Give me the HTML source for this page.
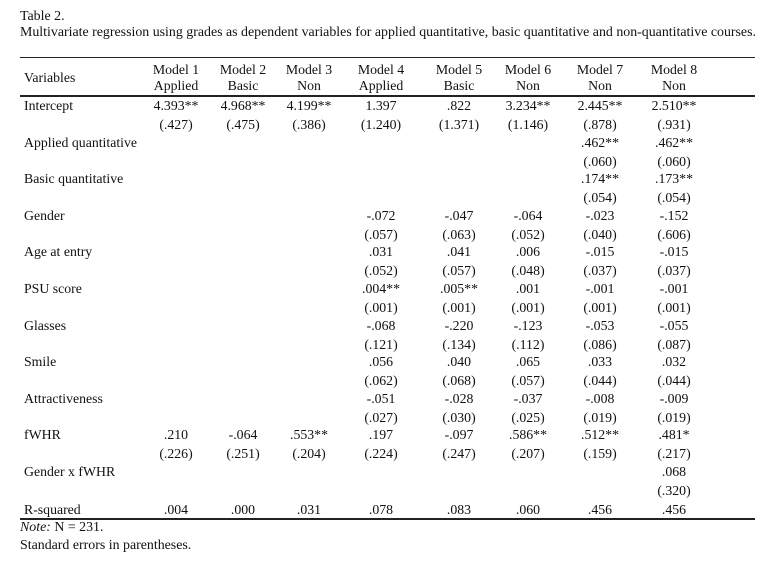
<!DOCTYPE html>
<html><head><meta charset="utf-8"><style>
body{margin:0;width:763px;height:561px;background:#fff;position:relative;overflow:hidden;font-family:"Liberation Serif",serif;font-size:13.8px;color:#111}
.t{position:absolute;line-height:18px;white-space:nowrap}
.c{transform:translateX(-50%)}
.l{position:absolute;left:20px;width:735px;background:#222}
.h{font-size:13.9px}
</style></head><body>
<div class="t h" style="left:20px;top:8px">Table 2.</div>
<div class="t h" style="left:20px;top:24px">Multivariate regression using grades as dependent variables for applied quantitative, basic quantitative and non-quantitative courses.</div>
<div class="l" style="top:57px;height:1px"></div>
<div class="l" style="top:95px;height:2px"></div>
<div class="l" style="top:518px;height:2px"></div>
<div id="g"></div>
<div class="t h" style="left:20px;top:519px"><i>Note:</i> N = 231.</div>
<div class="t h" style="left:20px;top:537px">Standard errors in parentheses.</div>
<script>
var cx=[176,243,309,381,459,528,600,674];
var h='';
function lab(t,y){h+='<div class="t" style="left:24px;top:'+(y-9)+'px">'+t+'</div>';}
function row(v,y){v.forEach(function(s,i){if(s)h+='<div class="t c" style="left:'+cx[i]+'px;top:'+(y-9)+'px">'+s+'</div>';});}
lab('Variables',78);
row(['Model 1','Model 2','Model 3','Model 4','Model 5','Model 6','Model 7','Model 8'],70);
row(['Applied','Basic','Non','Applied','Basic','Non','Non','Non'],86);
var R=[
['Intercept',['4.393**','4.968**','4.199**','1.397','.822','3.234**','2.445**','2.510**'],['(.427)','(.475)','(.386)','(1.240)','(1.371)','(1.146)','(.878)','(.931)']],
['Applied quantitative',['','','','','','','.462**','.462**'],['','','','','','','(.060)','(.060)']],
['Basic quantitative',['','','','','','','.174**','.173**'],['','','','','','','(.054)','(.054)']],
['Gender',['','','','-.072','-.047','-.064','-.023','-.152'],['','','','(.057)','(.063)','(.052)','(.040)','(.606)']],
['Age at entry',['','','','.031','.041','.006','-.015','-.015'],['','','','(.052)','(.057)','(.048)','(.037)','(.037)']],
['PSU score',['','','','.004**','.005**','.001','-.001','-.001'],['','','','(.001)','(.001)','(.001)','(.001)','(.001)']],
['Glasses',['','','','-.068','-.220','-.123','-.053','-.055'],['','','','(.121)','(.134)','(.112)','(.086)','(.087)']],
['Smile',['','','','.056','.040','.065','.033','.032'],['','','','(.062)','(.068)','(.057)','(.044)','(.044)']],
['Attractiveness',['','','','-.051','-.028','-.037','-.008','-.009'],['','','','(.027)','(.030)','(.025)','(.019)','(.019)']],
['fWHR',['.210','-.064','.553**','.197','-.097','.586**','.512**','.481*'],['(.226)','(.251)','(.204)','(.224)','(.247)','(.207)','(.159)','(.217)']],
['Gender x fWHR',['','','','','','','','.068'],['','','','','','','','(.320)']]
];
var y=106;
R.forEach(function(r){lab(r[0],y);row(r[1],y);row(r[2],y+19);y+=36.6;});
lab('R-squared',510);row(['.004','.000','.031','.078','.083','.060','.456','.456'],510);
document.getElementById('g').innerHTML=h;
</script>
</body></html>
